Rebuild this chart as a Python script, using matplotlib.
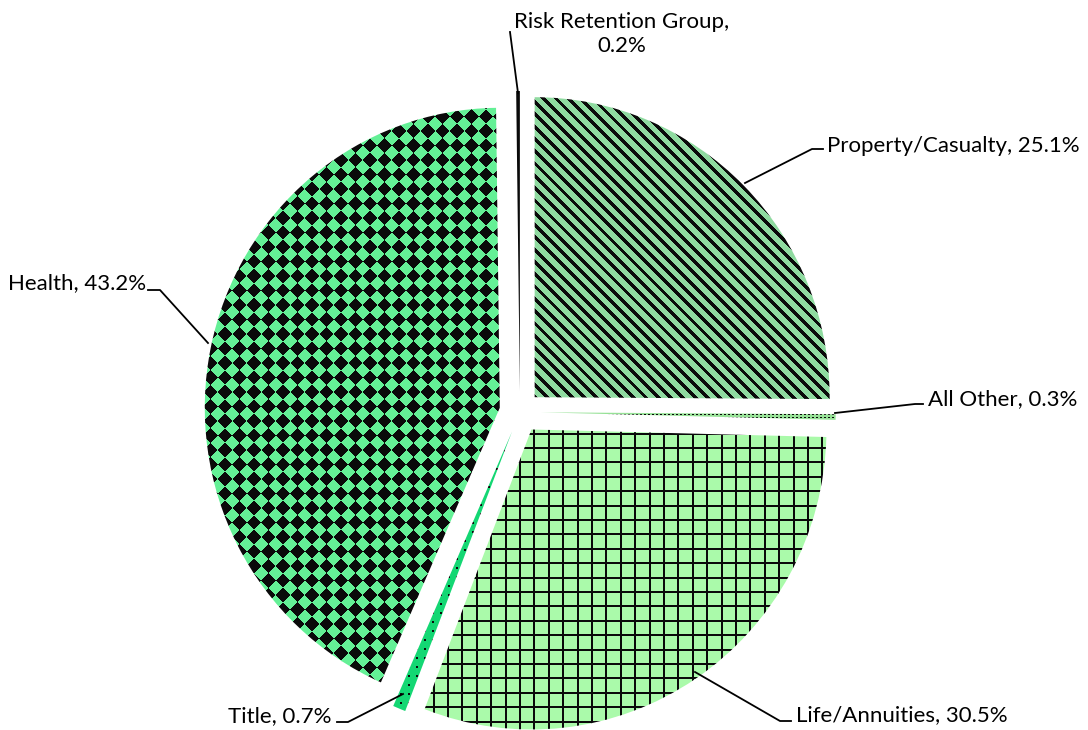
import numpy as np
import matplotlib
matplotlib.use('Agg')
import matplotlib.pyplot as plt

# data (clockwise from 12 o'clock)
categories = ['Property/Casualty', 'All Other', 'Life/Annuities', 'Title', 'Health',
              'Risk Retention Group']
shares = [25.1, 0.3, 30.5, 0.7, 43.2, 0.2]

# figure geometry in pixels (pie is a touch taller than wide, as in the source)
W, H = 1088, 730
CX, CY = 520, 412
RX, RY = 295, 300

plt.rcParams['font.family'] = ['Lato', 'DejaVu Sans']


def px(x, y):
    # pixel position (from top left) -> data units of the pie axes
    return (x - CX) / RX, (CY - y) / RY


fig = plt.figure(figsize=(W / 100, H / 100), dpi=100)
ax = fig.add_axes([0, 0, 1, 1])
xlim = (-CX / RX, (W - CX) / RX)
ylim = (-(H - CY) / RY, CY / RY)

wedges, _ = ax.pie(shares, explode=[0.07] * len(shares), startangle=90,
                   counterclock=False, radius=1,
                   wedgeprops=dict(linewidth=0, facecolor='none'))

# pattern fills, built in pixel space and clipped to each wedge
yy, xx = np.mgrid[0:H, 0:W].astype(float)
dark = np.array([0.04, 0.04, 0.04])


def texture(base, mask):
    img = np.empty((H, W, 3))
    img[:] = np.array(base) / 255.0
    img[mask] = dark
    return img


textures = [
    texture((143, 218, 160), ((xx - yy) % 12.3) < 4.8),                     # stripes
    texture((150, 225, 150), ((xx % 4) < 2) & ((yy % 3) < 1)),              # dots
    texture((170, 250, 170), ((xx % 14.4) < 2) | ((yy % 14.4) < 2)),        # grid
    texture((20, 215, 115), ((xx % 8) < 2) & ((yy % 9) < 2)),               # sparse dots
    texture((100, 240, 150),
            (np.floor((xx + yy) / 14.5) + np.floor((xx - yy) / 14.5)) % 2 == 0),  # diamonds
    texture((30, 30, 30), np.ones((H, W), bool)),
]

for w, img in zip(wedges, textures):
    im = ax.imshow(img, extent=(*xlim, *ylim), origin='upper', aspect='auto',
                   interpolation='nearest', zorder=1)
    im.set_clip_path(w)

# leader lines (pixel coords)
leaders = [
    [(745, 183), (812, 149), (823, 149)],
    [(835, 413), (915, 404), (923, 404)],
    [(695, 672), (780, 721), (791, 721)],
    [(403, 694), (348, 722), (337, 722)],
    [(208, 343), (160, 290), (148, 290)],
    [(518, 93), (510, 32)],
]
for pts in leaders:
    xs, ys = zip(*[px(x, y) for x, y in pts])
    ax.plot(xs, ys, color='black', lw=1.3, zorder=3)

# labels
fs = 16
label_pos = [(827, 146, 'left'), (928, 399, 'left'), (796, 715, 'left'),
             (332, 716, 'right'), (146, 283, 'right'), (622, 34, 'center')]
for cat, val, (x, y, ha) in zip(categories, shares, label_pos):
    sep = ',\n' if cat == 'Risk Retention Group' else ', '
    ax.text(*px(x, y), f'{cat}{sep}{val}%', ha=ha, va='center', fontsize=fs,
            color='black', linespacing=1.3, multialignment='center', zorder=4)

ax.set_xlim(xlim)
ax.set_ylim(ylim)
ax.set_aspect('auto')
ax.axis('off')

fig.savefig('out.png', dpi=100, facecolor='white')
